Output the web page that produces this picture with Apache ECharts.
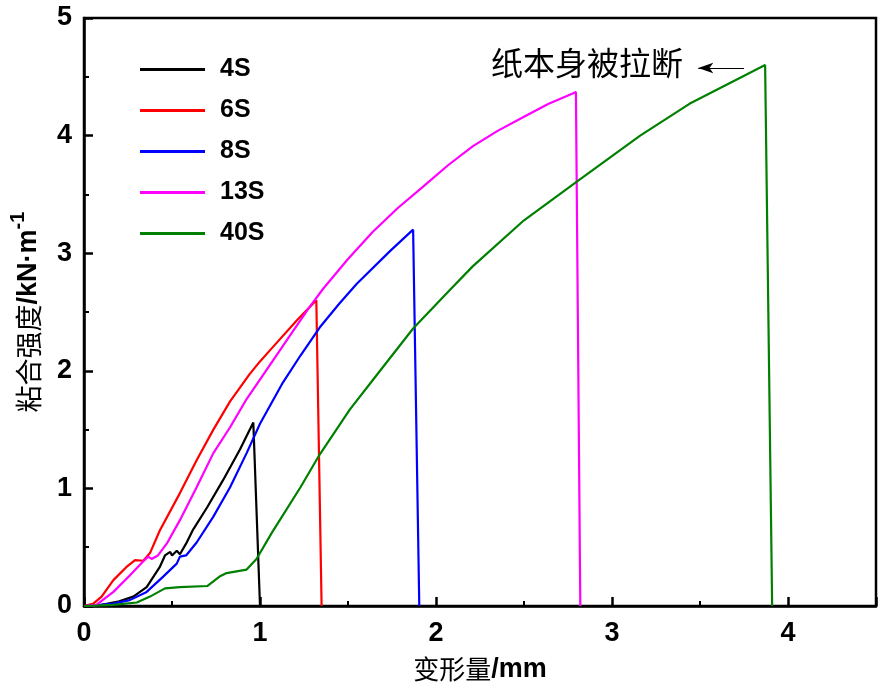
<!DOCTYPE html>
<html>
<head>
<meta charset="utf-8">
<script src="https://cdn.jsdelivr.net/npm/echarts@6/dist/echarts.min.js"></script>
<style>html,body{margin:0;padding:0;background:#fff;}#c{width:883px;height:692px;}</style>
</head>
<body>
<div id="c"></div>
<script>
var seriesNames = ['4S', '6S', '8S', '13S', '40S'];
var seriesColors = ['#000000', '#ff0000', '#0000ff', '#ff00ff', '#008000'];

var x4S = [0, 0.1, 0.2, 0.28, 0.356, 0.43, 0.46, 0.49, 0.50, 0.527, 0.545, 0.58, 0.62, 0.70, 0.79, 0.886, 0.962, 1.0];
var y4S = [0, 0.01, 0.04, 0.08, 0.16, 0.33, 0.43, 0.46, 0.43, 0.47, 0.44, 0.53, 0.65, 0.84, 1.07, 1.33, 1.56, 0];

var x6S = [0, 0.053, 0.1, 0.167, 0.24, 0.29, 0.337, 0.375, 0.43, 0.545, 0.64, 0.735, 0.83, 0.94, 1.0, 1.06, 1.21, 1.32, 1.35];
var y6S = [0, 0.02, 0.08, 0.22, 0.33, 0.39, 0.385, 0.45, 0.64, 0.96, 1.24, 1.50, 1.74, 1.97, 2.08, 2.18, 2.43, 2.60, 0];

var x8S = [0, 0.09, 0.167, 0.26, 0.356, 0.45, 0.527, 0.545, 0.58, 0.64, 0.735, 0.83, 0.924, 1.0, 1.13, 1.23, 1.34, 1.45, 1.55, 1.74, 1.87, 1.905];
var y8S = [0, 0.01, 0.02, 0.05, 0.12, 0.25, 0.36, 0.42, 0.43, 0.54, 0.76, 1.01, 1.30, 1.55, 1.90, 2.13, 2.37, 2.57, 2.74, 3.02, 3.20, 0];

var x13S = [0, 0.07, 0.167, 0.26, 0.337, 0.365, 0.384, 0.42, 0.47, 0.545, 0.64, 0.735, 0.83, 0.924, 1.02, 1.17, 1.28, 1.36, 1.5, 1.64, 1.78, 1.93, 2.07, 2.21, 2.35, 2.50, 2.64, 2.78, 2.795, 2.82];
var y13S = [0, 0.01, 0.12, 0.26, 0.38, 0.42, 0.40, 0.43, 0.53, 0.73, 1.01, 1.30, 1.52, 1.76, 1.97, 2.30, 2.54, 2.70, 2.95, 3.18, 3.38, 3.57, 3.75, 3.91, 4.04, 4.16, 4.27, 4.36, 4.37, 0];

var x40S = [0, 0.165, 0.3, 0.375, 0.46, 0.545, 0.70, 0.77, 0.81, 0.924, 0.98, 1.066, 1.23, 1.34, 1.51, 1.64, 1.87, 2.08, 2.21, 2.50, 2.81, 3.16, 3.44, 3.87, 3.91];
var y40S = [0, 0.01, 0.03, 0.08, 0.15, 0.16, 0.17, 0.25, 0.28, 0.31, 0.40, 0.62, 1.01, 1.29, 1.67, 1.92, 2.36, 2.69, 2.89, 3.28, 3.62, 4.00, 4.27, 4.60, 0];

var xTickLabels = ['0', '1', '2', '3', '4'];
var yTickLabels = ['0', '1', '2', '3', '4', '5'];
var annotationText = '纸本身被拉断';
var arrowFrom = [3.75, 4.575];
var arrowTo = [3.49, 4.575];

var xs = [x4S, x6S, x8S, x13S, x40S];
var ys = [y4S, y6S, y8S, y13S, y40S];

function pairs(xa, ya) {
  var out = [];
  for (var i = 0; i < xa.length; i++) out.push([xa[i], ya[i]]);
  return out;
}

var series = seriesNames.map(function (name, i) {
  var s = {
    name: name,
    type: 'line',
    data: pairs(xs[i], ys[i]),
    showSymbol: false,
    symbol: 'none',
    smooth: false,
    lineStyle: { color: seriesColors[i], width: 2.2 },
    itemStyle: { color: seriesColors[i] },
    z: 3 + i
  };
  if (name === '40S') {
    s.markLine = {
      silent: true,
      symbol: ['none', 'arrow'],
      symbolSize: [8, 15],
      label: { show: false },
      lineStyle: { color: '#000', width: 1, type: 'solid' },
      data: [[{ coord: arrowFrom }, { coord: arrowTo }]]
    };
  }
  return s;
});

var chart = echarts.init(document.getElementById('c'), null, { renderer: 'canvas' });
chart.setOption({
  backgroundColor: '#ffffff',
  animation: false,
  grid: {
    left: 84, right: 7, top: 18, bottom: 86,
    show: true, borderColor: '#000', borderWidth: 2.5, backgroundColor: 'transparent'
  },
  legend: {
    orient: 'vertical',
    left: 135,
    top: 52,
    itemWidth: 65,
    itemHeight: 3,
    itemGap: 16,
    icon: 'rect',
    data: seriesNames,
    textStyle: {
      fontFamily: 'Liberation Sans, Arial, sans-serif',
      fontWeight: 'bold',
      fontSize: 25,
      color: '#000',
      lineHeight: 24,
      padding: [0, 0, 0, 10]
    }
  },
  xAxis: {
    type: 'value',
    min: 0, max: 4.5, interval: 1,
    name: '{c|变形量}{b|/mm}',
    nameLocation: 'middle',
    nameGap: 50,
    nameTextStyle: {
      rich: {
        c: { fontFamily: 'Noto Sans CJK SC', fontSize: 26, color: '#000' },
        b: { fontFamily: 'Liberation Sans, Arial', fontWeight: 'bold', fontSize: 27, color: '#000' }
      }
    },
    axisLine: { show: true, onZero: false, lineStyle: { color: '#000', width: 2.5 } },
    axisTick: { show: true, inside: true, length: 9, lineStyle: { color: '#000', width: 2.5 } },
    minorTick: { show: true, splitNumber: 2, length: 5, lineStyle: { color: '#000', width: 2 } },
    splitLine: { show: false },
    axisLabel: {
      margin: 14,
      fontFamily: 'Liberation Sans, Arial',
      fontWeight: 'bold',
      fontSize: 27,
      color: '#000',
      formatter: function (v) {
        var idx = Math.round(v);
        return Math.abs(v - idx) < 1e-6 && idx < xTickLabels.length ? xTickLabels[idx] : '';
      }
    }
  },
  yAxis: {
    type: 'value',
    min: 0, max: 5, interval: 1,
    name: '{c|粘合强度}{b|/kN·m}{s|-1}',
    nameLocation: 'middle',
    nameRotate: 90,
    nameGap: 42,
    nameTextStyle: {
      rich: {
        c: { fontFamily: 'Noto Sans CJK SC', fontSize: 27, color: '#000', lineHeight: 34, verticalAlign: 'bottom' },
        b: { fontFamily: 'Liberation Sans, Arial', fontWeight: 'bold', fontSize: 27, color: '#000', lineHeight: 34, verticalAlign: 'bottom' },
        s: { fontFamily: 'Liberation Sans, Arial', fontWeight: 'bold', fontSize: 20, color: '#000', lineHeight: 20, verticalAlign: 'top' }
      }
    },
    axisLine: { show: true, onZero: false, lineStyle: { color: '#000', width: 2.5 } },
    axisTick: { show: true, inside: true, length: 9, lineStyle: { color: '#000', width: 2.5 } },
    minorTick: { show: true, splitNumber: 2, length: 5, lineStyle: { color: '#000', width: 2 } },
    splitLine: { show: false },
    axisLabel: {
      margin: 12,
      fontFamily: 'Liberation Sans, Arial',
      fontWeight: 'bold',
      fontSize: 27,
      color: '#000',
      formatter: function (v) {
        var idx = Math.round(v);
        return Math.abs(v - idx) < 1e-6 && idx < yTickLabels.length ? yTickLabels[idx] : '';
      }
    }
  },
  graphic: [{
    type: 'text',
    left: 491,
    top: 47,
    style: {
      text: annotationText,
      font: '32px "Noto Sans CJK SC"',
      fill: '#000'
    },
    z: 10
  }],
  series: series
});
</script>
</body>
</html>
